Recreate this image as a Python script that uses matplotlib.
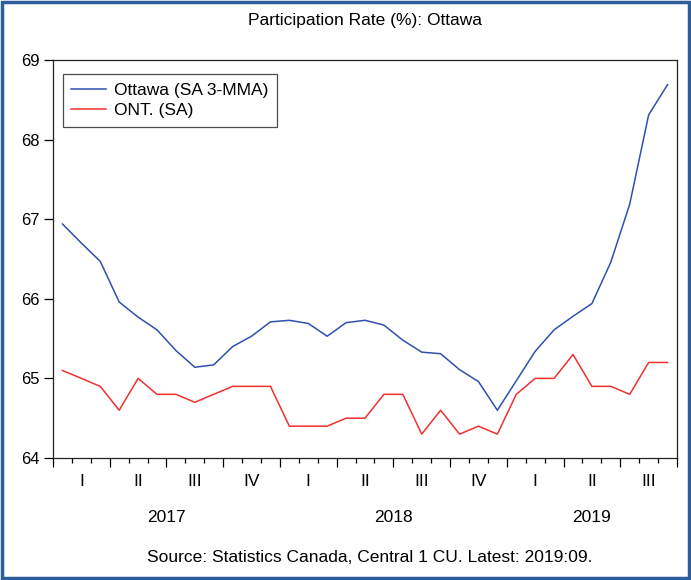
import matplotlib
matplotlib.use("Agg")
import matplotlib.pyplot as plt
from matplotlib.patches import Rectangle
import numpy as np

plt.rcParams['font.family'] = ['Liberation Sans', 'DejaVu Sans']

months = np.arange(33)  # Jan 2017 .. Sep 2019
ottawa = [66.94, 66.70, 66.47, 65.96, 65.77, 65.61, 65.35, 65.14, 65.17, 65.40,
          65.53, 65.71, 65.73, 65.69, 65.53, 65.70, 65.73, 65.67, 65.48, 65.33,
          65.31, 65.11, 64.96, 64.60, 64.97, 65.34, 65.61, 65.78, 65.94, 66.46,
          67.19, 68.31, 68.69]
ont = [65.1, 65.0, 64.9, 64.6, 65.0, 64.8, 64.8, 64.7, 64.8, 64.9,
       64.9, 64.9, 64.4, 64.4, 64.4, 64.5, 64.5, 64.8, 64.8, 64.3,
       64.6, 64.3, 64.4, 64.3, 64.8, 65.0, 65.0, 65.3, 64.9, 64.9,
       64.8, 65.2, 65.2]
quarter_labels = ['I', 'II', 'III', 'IV', 'I', 'II', 'III', 'IV', 'I', 'II', 'III']
years = ['2017', '2018', '2019']
year_months = [12, 12, 9]
yticks = [64, 65, 66, 67, 68, 69]

FS = 12.5

fig = plt.figure(figsize=(6.91, 5.80), dpi=100)
ax = fig.add_axes([53/691, 1-458/580, (677-53)/691, (458-60)/580])

x = months + 0.5
ax.plot(x, ottawa, color='#3050b0', lw=1.1, label='Ottawa (SA 3-MMA)')
ax.plot(x, ont, color='#f03030', lw=1.1, label='ONT. (SA)')

ax.set_xlim(0, 33)
ax.set_ylim(64, 69)
ax.set_yticks(yticks)
ax.set_yticklabels([str(v) for v in yticks], fontsize=12)
ax.set_xticks(np.arange(0, 34, 3))
ax.set_xticks(np.arange(0, 34, 1), minor=True)
ax.set_xticklabels([])
ax.tick_params(axis='y', direction='out', length=6.5, width=0.9, pad=3)
ax.tick_params(axis='x', which='major', direction='out', length=6.5, width=0.9)
ax.tick_params(axis='x', which='minor', direction='out', length=3.5, width=0.9)
for s in ax.spines.values():
    s.set_linewidth(0.9)
    s.set_color('#222222')

trans = ax.get_xaxis_transform()
for i, q in enumerate(quarter_labels):
    ax.text(i*3 + 1.5, -0.06, q, transform=trans, ha='center', va='center', fontsize=FS)
start = 0
for y, n in zip(years, year_months):
    ax.text(start + n/2, -0.15, y, transform=trans, ha='center', va='center', fontsize=FS)
    start += n

fig.text(365/691, 1-20/580, 'Participation Rate (%): Ottawa',
         ha='center', va='center', fontsize=FS)

leg = ax.legend(loc='upper left', bbox_to_anchor=((62.7-53)/624, (458-74)/398),
                borderaxespad=0, fontsize=FS, frameon=True, fancybox=False,
                edgecolor='#222222', handlelength=2.0, handletextpad=0.45,
                borderpad=0.5, labelspacing=0.3)
leg.get_frame().set_linewidth(0.9)

fig.text(370/691, 1-558/580, 'Source: Statistics Canada, Central 1 CU. Latest: 2019:09.',
         ha='center', va='center', fontsize=FS)

fig.patches.append(Rectangle((0.003, 0.003), 0.994, 0.994, transform=fig.transFigure,
                             fill=False, edgecolor='#2d5d9b', linewidth=2.5))

fig.savefig('out.png', dpi=100)
